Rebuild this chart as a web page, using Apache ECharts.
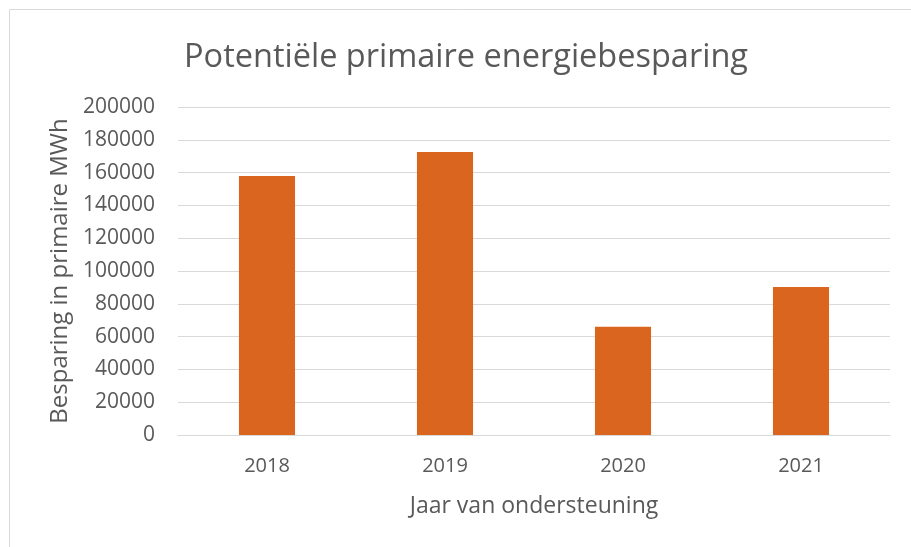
<!DOCTYPE html>
<html>
<head>
<meta charset="utf-8">
<script src="https://cdn.jsdelivr.net/npm/echarts@6/dist/echarts.min.js"></script>
<style>
  html, body { margin: 0; padding: 0; background: #fff; }
  #chart { width: 911px; height: 547px; }
</style>
</head>
<body>
<div id="chart"></div>
<script>
// data
const years = ["2018", "2019", "2020", "2021"];
const savings = [158000, 172500, 66000, 90300];

const textColor = "#595959";
const font = "Open Sans";

const chart = echarts.init(document.getElementById("chart"), null, { renderer: "canvas" });

chart.setOption({
    backgroundColor: "#ffffff",
    animation: false,
    title: {
        text: "Potentiële primaire energiebesparing",
        left: 465,
        top: 36,
        textAlign: "center",
        textStyle: {
            color: textColor,
            fontFamily: font,
            fontSize: 32.5,
            fontWeight: "normal",
        },
    },
    graphic: [
        {
            type: "rect",
            shape: { x: 9.5, y: 9.5, width: 960, height: 600 },
            style: { fill: "none", stroke: "#d9d9d9", lineWidth: 1 },
        },
    ],
    grid: {
        left: 178,
        right: 21,
        top: 107,
        bottom: 112,
    },
    xAxis: {
        type: "category",
        data: years,
        name: "Jaar van ondersteuning",
        nameLocation: "middle",
        nameGap: 60,
        nameTextStyle: { color: textColor, fontFamily: font, fontSize: 23 },
        axisLine: { lineStyle: { color: "#d9d9d9", width: 1 } },
        axisTick: { show: false },
        axisLabel: {
            color: textColor,
            fontFamily: font,
            fontSize: 20,
            margin: 21,
        },
    },
    yAxis: {
        type: "value",
        min: 0,
        max: 200000,
        interval: 20000,
        name: "Besparing in primaire MWh",
        nameLocation: "middle",
        nameGap: 105,
        nameTextStyle: { color: textColor, fontFamily: font, fontSize: 24 },
        axisLine: { show: false },
        axisTick: { show: false },
        axisLabel: {
            color: textColor,
            fontFamily: font,
            fontSize: 21,
            margin: 23,
            formatter: (v) => String(v),
        },
        splitLine: { lineStyle: { color: "#d9d9d9", width: 1 } },
    },
    series: [
        {
            type: "bar",
            data: savings,
            barWidth: "31.5%",
            itemStyle: { color: "#d9651f" },
        },
    ],
});

// title sits slightly left of the plot centre in the original
chart.setOption({ title: { left: 461 } });
</script>
</body>
</html>
